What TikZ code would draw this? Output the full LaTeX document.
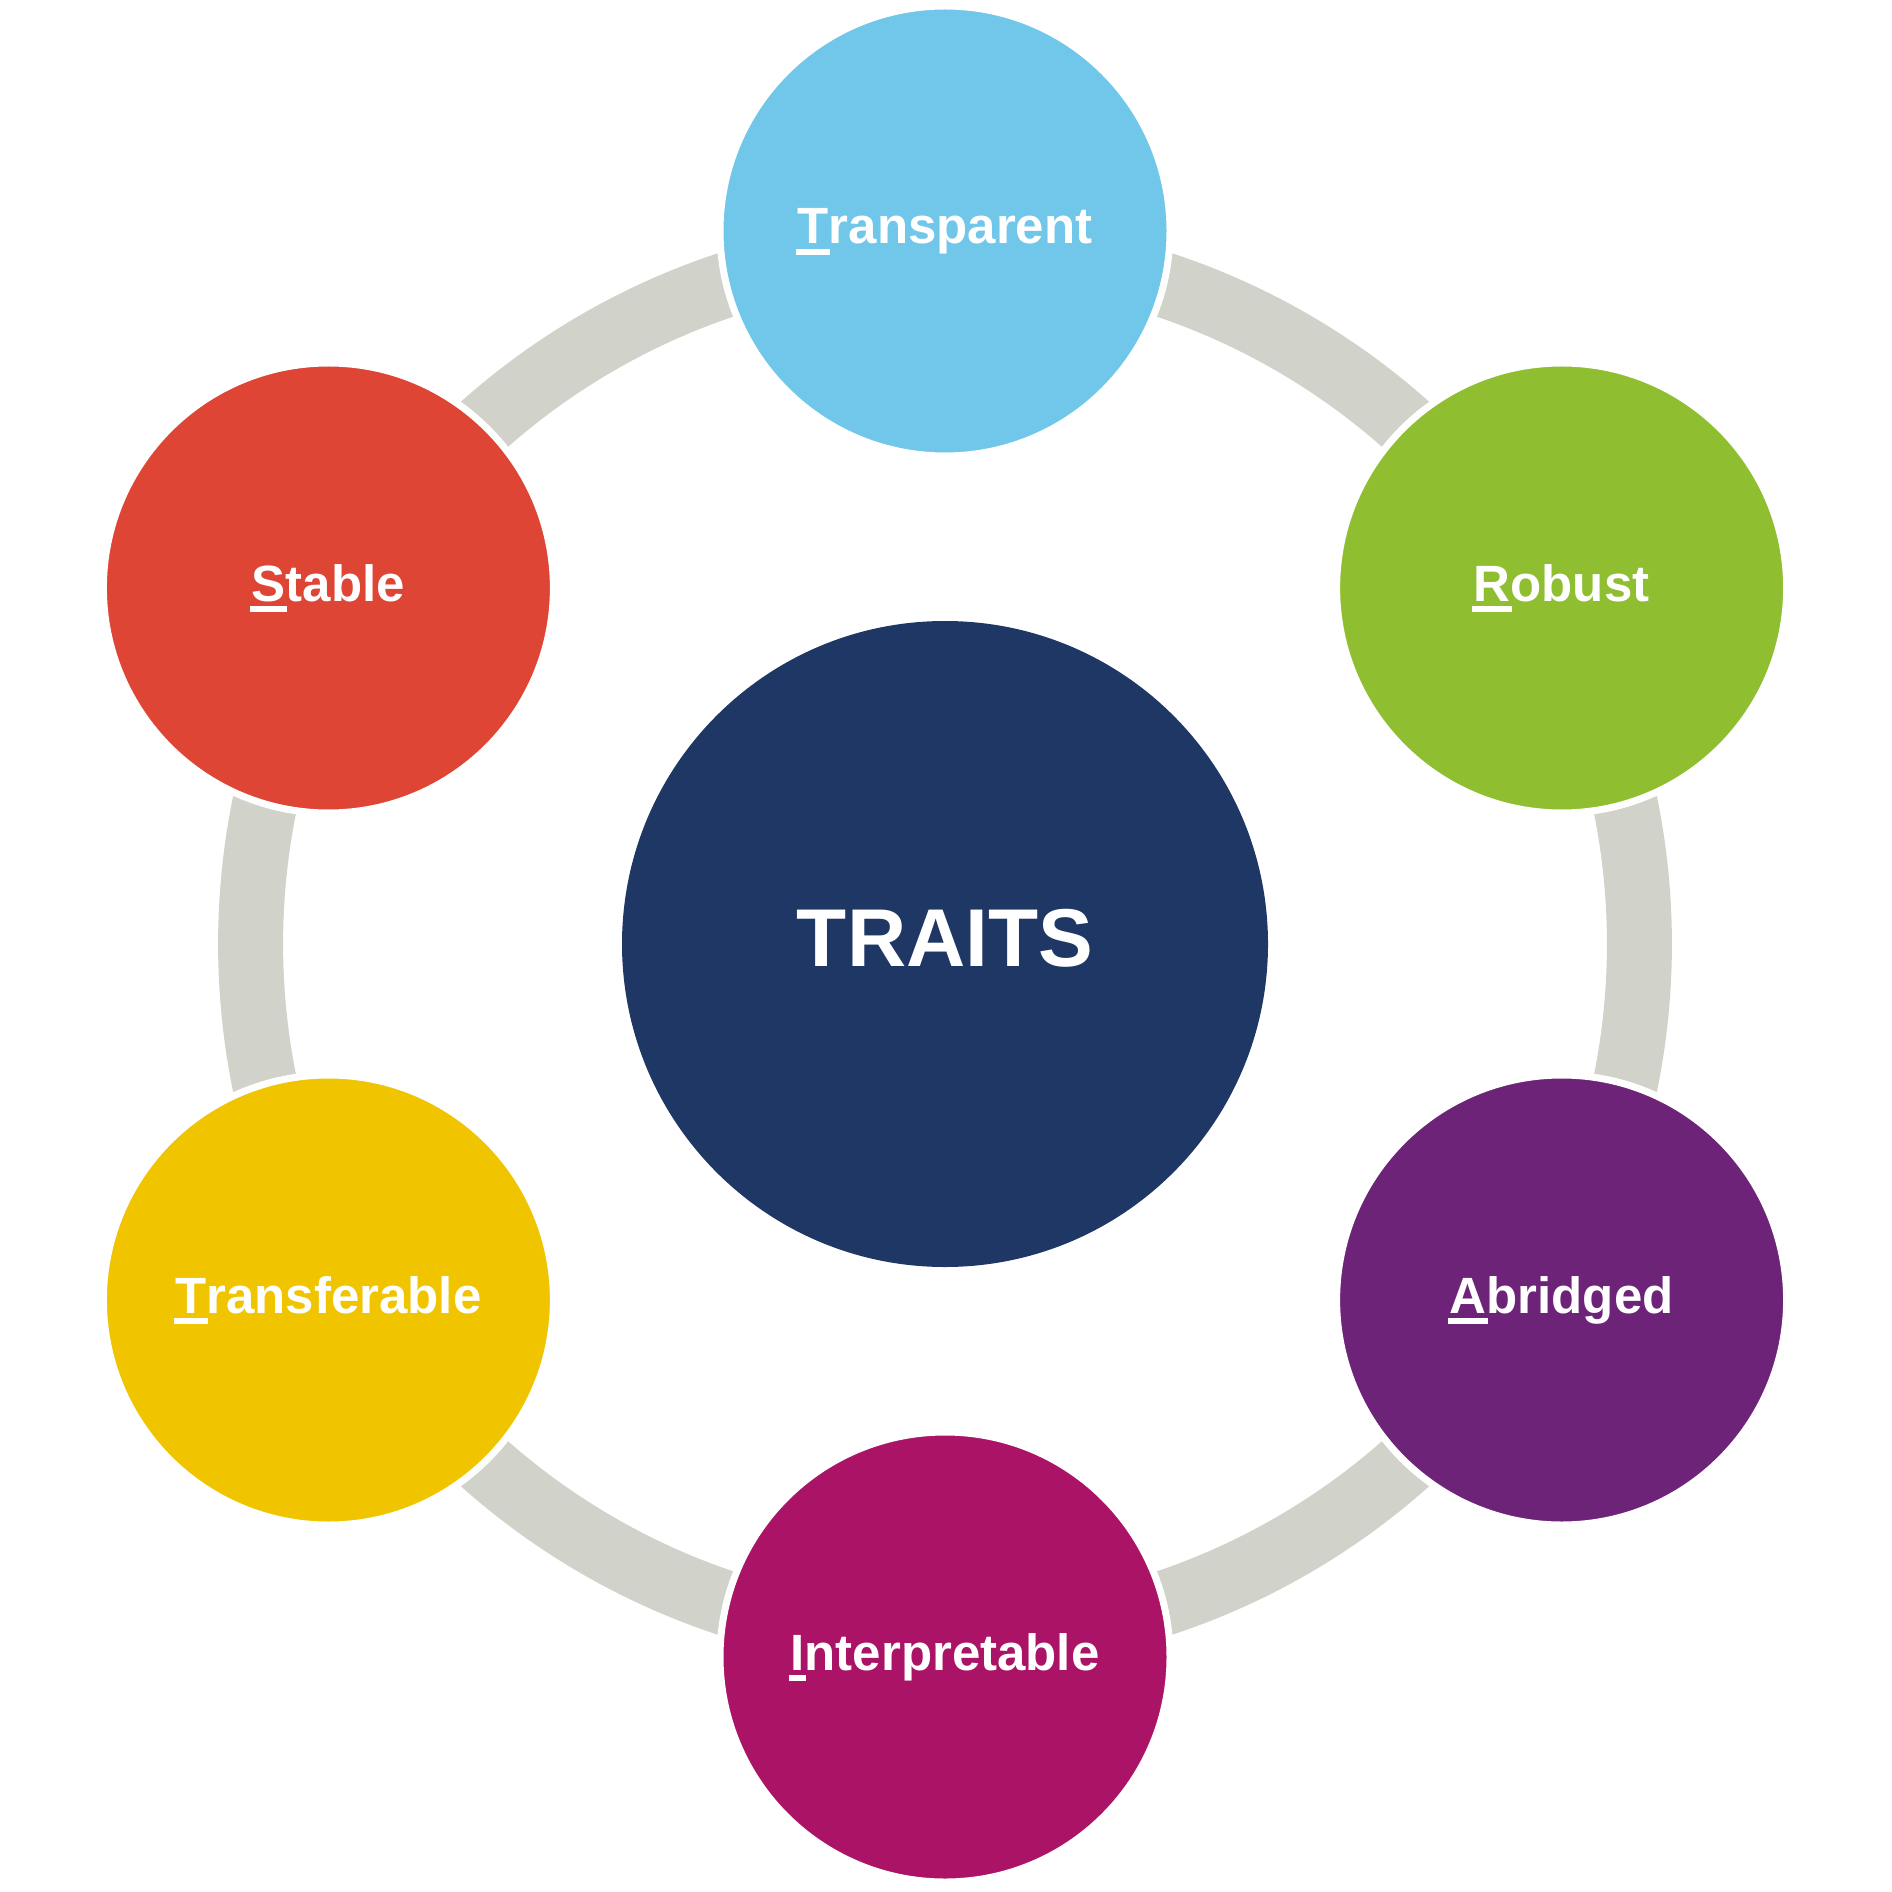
\documentclass[tikz,border=0pt]{standalone}
\usepackage{fontspec}
\setmainfont{Liberation Sans}
\usepackage{xcolor}

\definecolor{traitsnavy}{HTML}{1F3765}
\definecolor{traitsgrey}{HTML}{D1D2C9}
\definecolor{transblue}{HTML}{71C7EA}
\definecolor{robustgreen}{HTML}{8FBF31}
\definecolor{abrpurple}{HTML}{6D2478}
\definecolor{interpmagenta}{HTML}{AB1466}
\definecolor{transfyellow}{HTML}{F1C400}
\definecolor{stablered}{HTML}{DE4535}

% first letter with a thick bar under it
\newcommand{\firstletter}[1]{\setbox0\hbox{#1}\rlap{\kern-0.4pt\rule[-2.7pt]{\dimexpr\wd0+0.8pt\relax}{1.45pt}}\box0}

\tikzset{
  trait/.style={circle, draw=white, line width=1.75pt, inner sep=0pt,
    minimum size=112.5pt, text=white,
    font=\bfseries\fontsize{12.75}{15}\selectfont,
    text height=9.1pt, text depth=2.6pt},
  hub/.style={circle, fill=traitsnavy, inner sep=0pt, minimum size=161.5pt,
    text=white, font=\bfseries\fontsize{20.5}{24}\selectfont,
    text height=14.7pt, text depth=3.6pt},
  ring/.style={draw=traitsgrey, line width=16.25pt}
}

\begin{document}
\begin{tikzpicture}[x=0.25pt, y=-0.25pt]

  \useasboundingbox (0,0) rectangle (1892,1892);

  \node[hub] (traits) at (945,944) {TRAITS};

  \draw[ring] (traits.center) circle[radius=173.6pt];

  \node[trait, fill=transblue] (transparent) at (945,231)
  {\firstletter{T}ransparent};

  \node[trait, fill=robustgreen] (robust) at (1561.6,588)
  {\firstletter{R}obust};

  \node[trait, fill=abrpurple] (abridged) at (1561.6,1300)
  {\firstletter{A}bridged};

  \node[trait, fill=interpmagenta] (interpretable) at (945,1657)
  {\firstletter{I}nterpretable};

  \node[trait, fill=transfyellow] (transferable) at (328.4,1300)
  {\firstletter{T}ransferable};

  \node[trait, fill=stablered] (stable) at (328.4,588)
  {\firstletter{S}table};

\end{tikzpicture}
\end{document}
